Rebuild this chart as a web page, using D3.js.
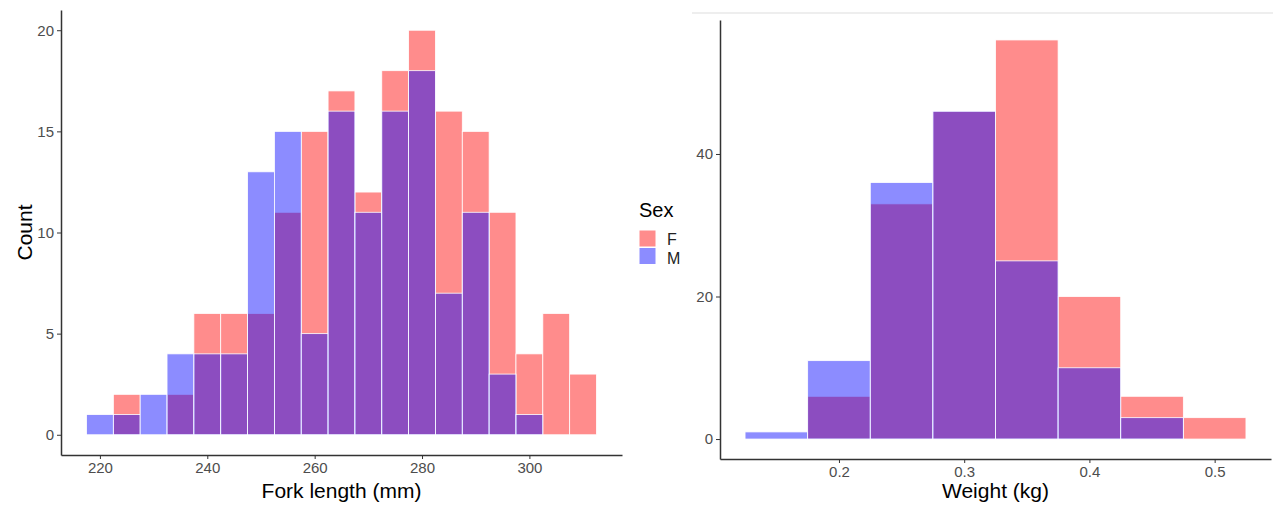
<!DOCTYPE html>
<html>
<head>
<meta charset="utf-8">
<script src="https://cdn.jsdelivr.net/npm/d3@7"></script>
<style>
  body { margin: 0; background: #fff; }
  svg { display: block; font-family: "Liberation Sans", Arial, sans-serif; }
  .tick text { fill: #4d4d4d; font-size: 15px; }
  .tick line { stroke: #333; }
  .domain { stroke: #333; stroke-width: 1.5px; }
</style>
</head>
<body>
<div id="chart"></div>
<script>
// Fork length histogram (bin centres, width 5 mm)
var lengthBins = [220, 225, 230, 235, 240, 245, 250, 255, 260, 265, 270, 275, 280, 285, 290, 295, 300, 305, 310];
var lengthF = [0, 2, 0, 2, 6, 6, 6, 11, 15, 17, 12, 18, 20, 16, 15, 11, 4, 6, 3];
var lengthM = [1, 1, 2, 4, 4, 4, 13, 15, 5, 16, 11, 16, 18, 7, 11, 3, 1, 0, 0];
var lengthTicksX = [220, 240, 260, 280, 300];
var lengthTicksY = [0, 5, 10, 15, 20];

// Weight histogram (bin centres, width 0.05 kg)
var weightBins = [0.15, 0.2, 0.25, 0.3, 0.35, 0.4, 0.45, 0.5];
var weightF = [0, 6, 33, 46, 56, 20, 6, 3];
var weightM = [1, 11, 36, 46, 25, 10, 3, 0];
var weightTicksX = [0.2, 0.3, 0.4, 0.5];
var weightTicksY = [0, 20, 40];

var sexes = ["F", "M"];
var sexColors = ["red", "blue"];

var W = 1273, H = 506;
var svg = d3.select("#chart").append("svg").attr("width", W).attr("height", H);

function histo(opt) {
    var x = d3.scaleLinear().domain(opt.xDomain).range([opt.left, opt.right]);
    var y = d3.scaleLinear().domain(opt.yDomain).range([opt.bottom, opt.top]);
    var g = svg.append("g");
    var half = opt.binWidth / 2;

    // F first, M drawn over it
    [opt.f, opt.m].forEach(function(vals, si) {
        g.append("g").selectAll("rect")
            .data(opt.bins.map(function(b, i) { return {c: b, v: vals[i]}; }).filter(function(d) { return d.v > 0; }))
            .enter().append("rect")
            .attr("x", function(d) { return x(d.c - half); })
            .attr("width", function(d) { return x(d.c + half) - x(d.c - half); })
            .attr("y", function(d) { return y(d.v); })
            .attr("height", function(d) { return y(0) - y(d.v); })
            .style("fill", sexColors[si])
            .style("fill-opacity", 0.45)
            .style("stroke", "#fff")
            .style("stroke-width", 0.8);
    });

    var xAxis = d3.axisBottom(x).tickValues(opt.xTicks).tickSize(4).tickSizeOuter(0).tickPadding(3)
        .tickFormat(opt.xFormat);
    var yAxis = d3.axisLeft(y).tickValues(opt.yTicks).tickSize(4).tickSizeOuter(0).tickPadding(3);
    g.append("g").attr("transform", "translate(0," + opt.bottom + ")").call(xAxis);
    g.append("g").attr("transform", "translate(" + opt.left + ",0)").call(yAxis);

    g.append("text")
        .attr("x", (opt.left + opt.right) / 2)
        .attr("y", 498)
        .attr("text-anchor", "middle")
        .style("font-size", "21px")
        .text(opt.xTitle);
    if (opt.yTitle) {
        g.append("text")
            .attr("transform", "translate(32," + (opt.top + opt.bottom) / 2 + ") rotate(-90)")
            .attr("text-anchor", "middle")
            .style("font-size", "21px")
            .text(opt.yTitle);
    }
}

histo({
    bins: lengthBins, f: lengthF, m: lengthM, binWidth: 5,
    xDomain: [212.75, 317.25], yDomain: [-1, 21],
    left: 61, right: 622, top: 10, bottom: 455,
    xTicks: lengthTicksX, yTicks: lengthTicksY, xFormat: d3.format("d"),
    xTitle: "Fork length (mm)", yTitle: "Count"
});

histo({
    bins: weightBins, f: weightF, m: weightM, binWidth: 0.05,
    xDomain: [0.105, 0.545], yDomain: [-2.8, 58.8],
    left: 720, right: 1271, top: 20, bottom: 459,
    xTicks: weightTicksX, yTicks: weightTicksY, xFormat: d3.format(".1f"),
    xTitle: "Weight (kg)"
});

// thin border line at top of the second panel
svg.append("line").attr("x1", 692).attr("x2", W).attr("y1", 13).attr("y2", 13)
    .style("stroke", "#ddd").style("stroke-width", 1);

// Legend
var leg = svg.append("g");
leg.append("text").attr("x", 639).attr("y", 217).style("font-size", "20px").text("Sex");
leg.selectAll("rect.key").data(sexes).enter().append("rect")
    .attr("class", "key")
    .attr("x", 639).attr("y", function(d, i) { return 230 + i * 17.5; })
    .attr("width", 17).attr("height", 17)
    .style("fill", function(d, i) { return sexColors[i]; })
    .style("fill-opacity", 0.45)
    .style("stroke", "#fff");
leg.selectAll("text.lab").data(sexes).enter().append("text")
    .attr("class", "lab")
    .attr("x", 667).attr("y", function(d, i) { return 245 + i * 18.5; })
    .style("font-size", "16px").style("fill", "#222")
    .text(function(d) { return d; });
</script>
</body>
</html>
